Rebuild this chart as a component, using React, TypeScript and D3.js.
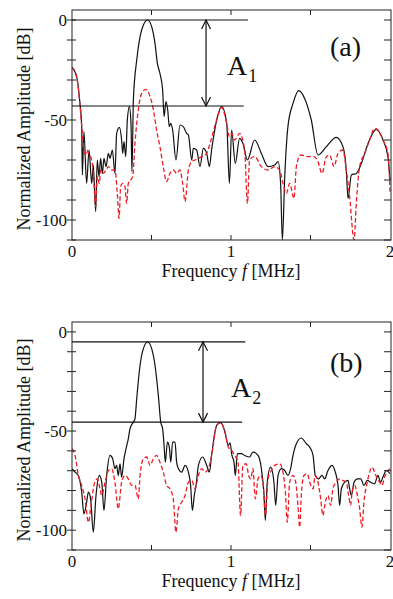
import React, { useEffect, useRef } from 'react';
import * as d3 from 'd3';

type Pt = [number, number];

// [frequency MHz, amplitude dB]
const blackA: Pt[] = [
  [0, -23.7], [0.029, -28.3], [0.05, -41.7], [0.061, -53.3], [0.065, -77.5], [0.075, -55.8],
  [0.092, -81.7], [0.107, -65], [0.124, -81.7], [0.134, -72.5], [0.149, -95.8], [0.159, -70],
  [0.17, -78.3], [0.18, -69.2], [0.191, -76.7], [0.201, -69.2], [0.214, -73.3], [0.229, -66.7],
  [0.239, -69.2], [0.254, -65], [0.27, -76.7], [0.281, -56.7], [0.298, -53.7], [0.312, -60],
  [0.319, -66.7], [0.327, -60.8], [0.338, -68.3], [0.348, -50], [0.361, -43.3], [0.371, -51.7],
  [0.377, -75.8], [0.386, -40], [0.407, -20], [0.428, -8.3], [0.449, -2.5], [0.476, 0],
  [0.501, -3.3], [0.522, -11.7], [0.537, -21.7], [0.553, -26.7], [0.57, -35], [0.579, -48.3],
  [0.591, -40.8], [0.602, -45], [0.612, -53.3], [0.621, -51.7], [0.633, -55], [0.654, -70],
  [0.679, -52.5], [0.7, -53.3], [0.721, -56.7], [0.732, -57.5], [0.753, -70], [0.763, -64.2],
  [0.784, -65], [0.805, -73.3], [0.826, -64.2], [0.847, -66.7], [0.864, -73.3], [0.878, -65],
  [0.91, -50], [0.941, -43.3], [0.973, -51.7], [0.99, -81.7], [1.004, -55], [1.027, -71.7],
  [1.054, -59.2], [1.075, -61.7], [1.103, -70], [1.149, -60], [1.191, -66.7], [1.233, -73.3],
  [1.275, -72.5], [1.296, -70.8], [1.312, -81.7], [1.323, -110], [1.338, -78.3], [1.358, -53.3],
  [1.39, -41.7], [1.426, -35.3], [1.463, -39.2], [1.505, -50], [1.547, -67.5], [1.6, -63.3],
  [1.662, -58.7], [1.704, -63.3], [1.725, -75], [1.736, -89.2], [1.757, -77.5], [1.788, -76.7],
  [1.82, -71.7], [1.862, -61.7], [1.914, -54.7], [1.956, -60], [1.987, -68.3], [2.0, -80],
];

const redA: Pt[] = [
  [0, -23.7], [0.029, -28.3], [0.05, -42.5], [0.065, -56.7], [0.082, -68.3], [0.092, -65],
  [0.103, -66.7], [0.117, -68.3], [0.13, -73.3], [0.138, -81.7], [0.149, -93.3], [0.159, -78.3],
  [0.172, -81.7], [0.18, -75], [0.197, -76.7], [0.214, -75], [0.229, -73.3], [0.249, -75],
  [0.27, -75], [0.285, -86.7], [0.296, -99.2], [0.306, -83.3], [0.319, -81.7], [0.333, -83.3],
  [0.344, -91.7], [0.354, -81.7], [0.369, -80], [0.382, -78.3], [0.396, -61.7], [0.417, -45],
  [0.438, -36.7], [0.465, -34.7], [0.491, -38.3], [0.512, -45], [0.532, -55], [0.553, -63.3],
  [0.574, -73.3], [0.595, -80.8], [0.616, -76.7], [0.637, -75], [0.658, -76.7], [0.679, -75],
  [0.696, -81.7], [0.711, -90.8], [0.732, -75], [0.753, -70.8], [0.774, -70], [0.795, -69.2],
  [0.816, -68.3], [0.847, -66.7], [0.868, -61.7], [0.91, -50], [0.941, -43.7], [0.973, -51.7],
  [0.99, -58.3], [1.004, -56.7], [1.023, -60], [1.054, -56.7], [1.086, -65], [1.103, -91.7],
  [1.117, -70], [1.149, -68.3], [1.191, -73.3], [1.233, -75], [1.275, -73.3], [1.306, -75],
  [1.327, -81.7], [1.348, -86.7], [1.369, -81.7], [1.396, -89.2], [1.411, -73.3], [1.438, -67.5],
  [1.484, -68.3], [1.522, -68.3], [1.547, -70.8], [1.572, -76.7], [1.6, -68.3], [1.62, -67.5],
  [1.648, -73.3], [1.673, -66.7], [1.704, -65], [1.725, -75], [1.746, -88.3], [1.774, -110],
  [1.788, -91.7], [1.809, -73.3], [1.841, -66.7], [1.872, -60], [1.903, -54.2], [1.924, -55],
  [1.956, -60], [1.987, -66.7], [2.0, -85.8],
];

const blackB: Pt[] = [
  [0, -69], [0.019, -70.7], [0.04, -72.4], [0.061, -80.8], [0.075, -91.8], [0.092, -85.9],
  [0.103, -80.8], [0.117, -84.2], [0.134, -101], [0.151, -82.5], [0.172, -72.4], [0.187, -75.8],
  [0.201, -90.1], [0.218, -72.4], [0.239, -62.3], [0.256, -64], [0.27, -69], [0.281, -67.3],
  [0.291, -72.4], [0.302, -66.5], [0.312, -73.2], [0.327, -64], [0.34, -58.9], [0.354, -53.9],
  [0.365, -48.8], [0.386, -45.5], [0.396, -43.8], [0.407, -33.7], [0.428, -16.8], [0.449, -8.4],
  [0.476, -5.1], [0.501, -8.4], [0.522, -16.8], [0.543, -32], [0.558, -45.5], [0.57, -48.8],
  [0.579, -57.2], [0.587, -65.7], [0.6, -55.6], [0.612, -58.1], [0.621, -65.7], [0.633, -55.6],
  [0.648, -55.6], [0.658, -65.7], [0.669, -69], [0.69, -70.7], [0.711, -67.3], [0.732, -70.7],
  [0.746, -77.4], [0.757, -90.1], [0.769, -82.5], [0.78, -77.4], [0.795, -67.3], [0.822, -63.1],
  [0.847, -67.3], [0.864, -70.7], [0.878, -62.3], [0.91, -47.1], [0.935, -45.8], [0.962, -50.5],
  [0.983, -57.2], [0.994, -55.9], [1.006, -62.3], [1.019, -65.7], [1.027, -72.4], [1.04, -61.4],
  [1.065, -61.4], [1.086, -62.3], [1.117, -63.1], [1.138, -60.6], [1.17, -62.3], [1.191, -69],
  [1.208, -82.5], [1.216, -95.1], [1.228, -75.8], [1.249, -68.2], [1.27, -75.8], [1.281, -87.5],
  [1.296, -72.4], [1.317, -69], [1.338, -69.9], [1.358, -72.4], [1.375, -69], [1.39, -62.3],
  [1.411, -56.4], [1.442, -53.5], [1.474, -56.4], [1.495, -58.1], [1.516, -62.3], [1.53, -72.4],
  [1.551, -74.1], [1.572, -72.4], [1.589, -74.1], [1.61, -69.9], [1.635, -67.3], [1.656, -70.7],
  [1.673, -77.4], [1.683, -87.5], [1.694, -79.1], [1.715, -75.8], [1.736, -74.9], [1.746, -79.1],
  [1.757, -82.5], [1.774, -75.8], [1.795, -74.1], [1.816, -74.1], [1.836, -77.4], [1.857, -74.9],
  [1.878, -75.8], [1.903, -76.6], [1.924, -72.4], [1.941, -75.8], [1.956, -73.2], [1.977, -69.9],
  [2.0, -71.5],
];

const redB: Pt[] = [
  [0, -58.9], [0.019, -62.3], [0.04, -72.4], [0.061, -77.4], [0.082, -84.2], [0.103, -96],
  [0.117, -89.2], [0.138, -77.4], [0.159, -74.1], [0.176, -79.1], [0.187, -82.5], [0.208, -75.8],
  [0.229, -69.9], [0.249, -69], [0.27, -75.8], [0.291, -89.2], [0.312, -75.8], [0.333, -72.4],
  [0.354, -74.1], [0.375, -77.4], [0.396, -77.4], [0.417, -84.2], [0.428, -72.4], [0.449, -64],
  [0.47, -63.1], [0.491, -67.3], [0.512, -64], [0.532, -62.3], [0.553, -65.7], [0.574, -70.7],
  [0.595, -77.4], [0.616, -79.1], [0.637, -84.2], [0.654, -101], [0.669, -89.2], [0.69, -85.9],
  [0.711, -82.5], [0.732, -75.8], [0.753, -74.9], [0.774, -79.1], [0.795, -72.4], [0.816, -69],
  [0.836, -70.7], [0.857, -69], [0.878, -62.3], [0.91, -47.1], [0.935, -45.8], [0.962, -50.5],
  [0.983, -58.1], [1.004, -59.8], [1.023, -62.3], [1.044, -65.7], [1.06, -92.6], [1.075, -67.3],
  [1.096, -66.5], [1.111, -72.4], [1.124, -74.1], [1.138, -69], [1.153, -84.2], [1.17, -74.1],
  [1.187, -72.4], [1.201, -75.8], [1.216, -92.6], [1.233, -74.1], [1.254, -69.9], [1.275, -67.3],
  [1.306, -66.5], [1.327, -70.7], [1.342, -80.8], [1.354, -96], [1.369, -75.8], [1.39, -72.4],
  [1.407, -75.8], [1.421, -87.5], [1.432, -98.5], [1.442, -82.5], [1.459, -72.4], [1.48, -71.5],
  [1.495, -75.8], [1.516, -79.1], [1.53, -72.4], [1.547, -75.8], [1.564, -84.2], [1.578, -92.6],
  [1.593, -85.9], [1.61, -82.5], [1.627, -87.5], [1.641, -79.1], [1.662, -75.8], [1.683, -74.1],
  [1.704, -74.9], [1.725, -75.8], [1.74, -82.5], [1.753, -87.5], [1.761, -80.8], [1.778, -77.4],
  [1.795, -82.5], [1.809, -89.2], [1.824, -98.5], [1.836, -85.9], [1.857, -75.8], [1.872, -70.7],
  [1.887, -68.2], [1.903, -70.7], [1.92, -74.1], [1.935, -75.8], [1.95, -77.4], [1.966, -73.2],
  [1.987, -69.9], [2.0, -69],
];

// reference levels for the A1 / A2 brackets (dB)
const levelsA = [0, -43];
const levelsB = [-5, -45.5];

const yTickLabels = [0, -50, -100];
const xTickLabels = [0, 1, 2];

const FONT = '"Liberation Serif", "Times New Roman", serif';

interface PanelCfg {
  top: number;
  bottom: number;
  black: Pt[];
  red: Pt[];
  levels: number[];
  lineEnds: number[];
  arrowF: number;
  tag: string;
  tagY: number;
  sub: string;
  labelX: number;
  labelY: number;
  id: string;
}

const drawPanel = (svg: any, cfg: PanelCfg) => {
  const left = 72;
  const right = 391;
  const x = d3.scaleLinear().domain([0, 2]).range([left, 390]);
  const y = d3.scaleLinear().domain([-110, 5]).range([cfg.bottom, cfg.top]);

  const g = svg.append('g');

  g.append('clipPath')
    .attr('id', `clip-${cfg.id}`)
    .append('rect')
    .attr('x', left)
    .attr('y', cfg.top)
    .attr('width', right - left)
    .attr('height', cfg.bottom - cfg.top);

  const line = d3.line<Pt>()
    .x(d => x(d[0]))
    .y(d => y(d[1]))
    .curve(d3.curveMonotoneX);

  const curves = g.append('g').attr('clip-path', `url(#clip-${cfg.id})`);

  curves.append('path')
    .datum(cfg.black)
    .attr('fill', 'none')
    .attr('stroke', '#111')
    .attr('stroke-width', 1.2)
    .attr('d', line);

  curves.append('path')
    .datum(cfg.red)
    .attr('fill', 'none')
    .attr('stroke', '#ee1c24')
    .attr('stroke-width', 1.3)
    .attr('stroke-dasharray', '4.5,2.5')
    .attr('d', line);

  // frame
  g.append('rect')
    .attr('x', left)
    .attr('y', cfg.top)
    .attr('width', right - left)
    .attr('height', cfg.bottom - cfg.top)
    .attr('fill', 'none')
    .attr('stroke', '#222')
    .attr('stroke-width', 1);

  // y ticks every 10 dB: out on left, in on right
  d3.range(-110, 1, 10).forEach(v => {
    g.append('line')
      .attr('x1', left - 5).attr('x2', left + 4)
      .attr('y1', y(v)).attr('y2', y(v))
      .attr('stroke', '#222');
    g.append('line')
      .attr('x1', right - 7).attr('x2', right)
      .attr('y1', y(v)).attr('y2', y(v))
      .attr('stroke', '#222');
  });

  yTickLabels.forEach(v => {
    g.append('text')
      .attr('x', left - 5)
      .attr('y', y(v))
      .attr('dy', '0.35em')
      .attr('text-anchor', 'end')
      .attr('font-family', FONT)
      .attr('font-size', 17)
      .attr('fill', '#111')
      .text(v === 0 ? '0' : `-${Math.abs(v)}`);
  });

  // x ticks every 0.5 MHz, inward on top and bottom
  [0.5, 1, 1.5].forEach(v => {
    g.append('line')
      .attr('x1', x(v)).attr('x2', x(v))
      .attr('y1', cfg.bottom - 5).attr('y2', cfg.bottom)
      .attr('stroke', '#222');
    g.append('line')
      .attr('x1', x(v)).attr('x2', x(v))
      .attr('y1', cfg.top).attr('y2', cfg.top + 5)
      .attr('stroke', '#222');
  });

  xTickLabels.forEach(v => {
    g.append('text')
      .attr('x', x(v))
      .attr('y', cfg.bottom + 17)
      .attr('text-anchor', 'middle')
      .attr('font-family', FONT)
      .attr('font-size', 17)
      .attr('fill', '#111')
      .text(String(v));
  });

  const xt = g.append('text')
    .attr('x', x(1))
    .attr('y', cfg.bottom + 37)
    .attr('text-anchor', 'middle')
    .attr('font-family', FONT)
    .attr('font-size', 18)
    .attr('fill', '#111');
  xt.append('tspan').text('Frequency ');
  xt.append('tspan').attr('font-style', 'italic').text('f');
  xt.append('tspan').text(' [MHz]');

  g.append('text')
    .attr('transform', `translate(30,${(cfg.top + cfg.bottom) / 2 + 4}) rotate(-90)`)
    .attr('text-anchor', 'middle')
    .attr('font-family', FONT)
    .attr('font-size', 18)
    .attr('fill', '#111')
    .text('Normalized Amplitude [dB]');

  // bracket lines and double arrow
  cfg.levels.forEach((lv, i) => {
    g.append('line')
      .attr('x1', left).attr('x2', x(cfg.lineEnds[i]))
      .attr('y1', y(lv)).attr('y2', y(lv))
      .attr('stroke', '#111')
      .attr('stroke-width', 1.2);
  });

  const ax = x(cfg.arrowF);
  const y0 = y(cfg.levels[0]);
  const y1 = y(cfg.levels[1]);
  g.append('line')
    .attr('x1', ax).attr('x2', ax)
    .attr('y1', y0).attr('y2', y1)
    .attr('stroke', '#111')
    .attr('stroke-width', 1.2);
  g.append('path')
    .attr('d', `M${ax - 4.5},${y0 + 9} L${ax},${y0} L${ax + 4.5},${y0 + 9}`)
    .attr('fill', 'none')
    .attr('stroke', '#111')
    .attr('stroke-width', 1.2);
  g.append('path')
    .attr('d', `M${ax - 4.5},${y1 - 9} L${ax},${y1} L${ax + 4.5},${y1 - 9}`)
    .attr('fill', 'none')
    .attr('stroke', '#111')
    .attr('stroke-width', 1.2);

  const amp = g.append('text')
    .attr('x', cfg.labelX)
    .attr('y', cfg.labelY)
    .attr('font-family', FONT)
    .attr('font-size', 28)
    .attr('fill', '#111');
  amp.append('tspan').text('A');
  amp.append('tspan')
    .attr('dx', 1)
    .attr('dy', 7)
    .attr('font-size', 18)
    .text(cfg.sub);

  g.append('text')
    .attr('x', 330)
    .attr('y', cfg.tagY)
    .attr('font-family', FONT)
    .attr('font-size', 28)
    .attr('fill', '#111')
    .text(cfg.tag);
};

export default function App() {
  const svgRef = useRef<SVGSVGElement>(null);

  useEffect(() => {
    if (!svgRef.current) return;
    const svg = d3.select(svgRef.current);
    svg.selectAll('*').remove();

    drawPanel(svg, {
      top: 10, bottom: 240, black: blackA, red: redA,
      levels: levelsA, lineEnds: [1.107, 1.08], arrowF: 0.843,
      tag: '(a)', tagY: 56, sub: '1', labelX: 227, labelY: 75, id: 'a',
    });
    drawPanel(svg, {
      top: 322, bottom: 550, black: blackB, red: redB,
      levels: levelsB, lineEnds: [1.09, 1.07], arrowF: 0.824,
      tag: '(b)', tagY: 372, sub: '2', labelX: 231, labelY: 397, id: 'b',
    });
  }, []);

  return (
    <svg
      ref={svgRef}
      width={393}
      height={599}
      style={{ position: 'absolute', left: 0, top: 0, background: '#fff' }}
    />
  );
}
